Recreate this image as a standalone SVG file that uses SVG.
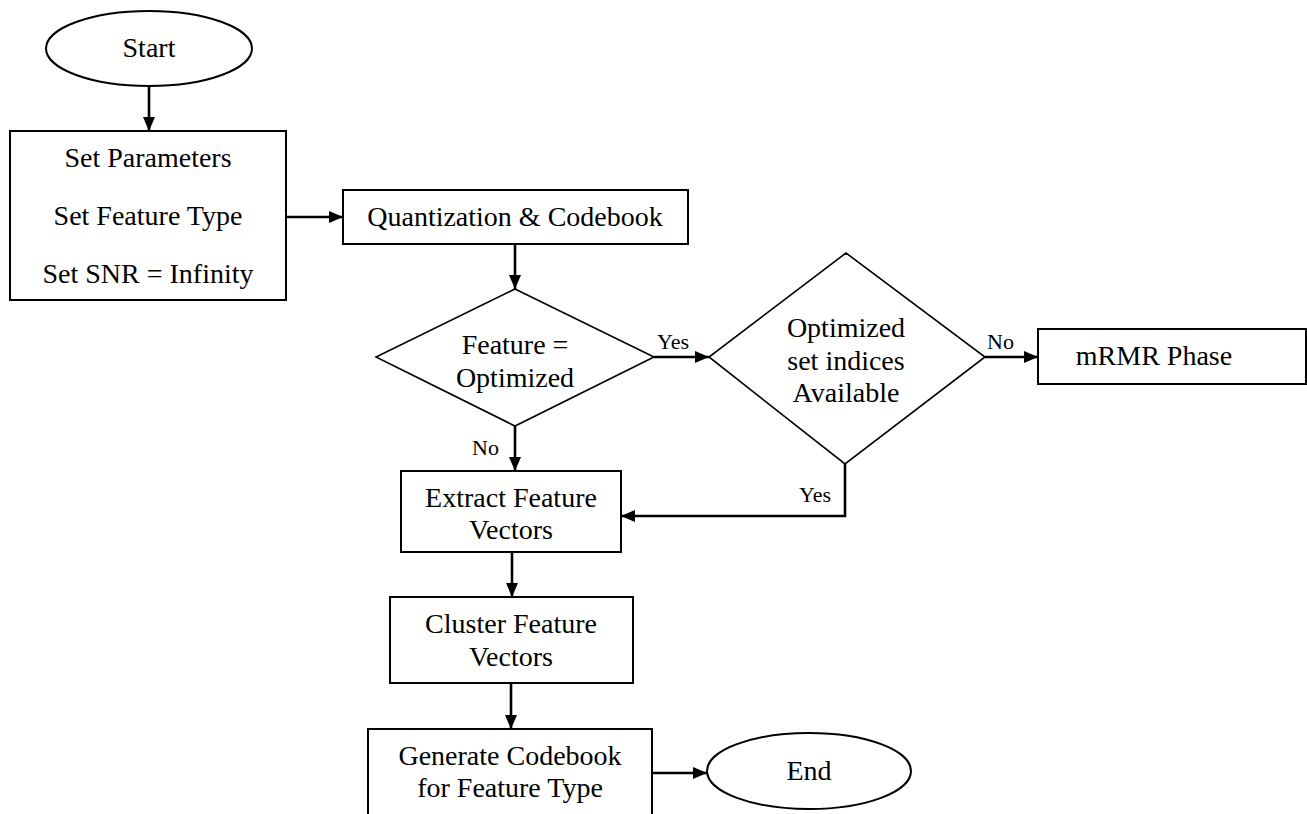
<svg xmlns="http://www.w3.org/2000/svg" width="1307" height="814" viewBox="0 0 1307 814">
<defs>
<style>
.shape{fill:#fff;stroke:#000;stroke-width:2}
.dia{fill:#fff;stroke:#000;stroke-width:1.6}
.t{font-size:28px;fill:#000;text-anchor:middle}
.lbl{font-size:22px;fill:#000}
.c{fill:none;stroke:#000;stroke-width:2.6}
</style>
<marker id="ah" viewBox="0 0 14 12" refX="14" refY="6" markerWidth="14" markerHeight="12" markerUnits="userSpaceOnUse" orient="auto">
<path d="M0,0 L14,6 L0,12 Z" fill="#000"/>
</marker>
</defs>
<rect width="1307" height="814" fill="#fff"/>
<g font-family="Liberation Serif, serif">
<g id="start">
<ellipse class="shape" cx="149" cy="48.5" rx="103" ry="37.5"/>
<text class="t" x="149" y="57">Start</text>
</g>
<g id="setparams">
<rect class="shape" x="10" y="131" width="276" height="169"/>
<text class="t" x="148" y="167">Set Parameters</text>
<text class="t" x="148" y="225">Set Feature Type</text>
<text class="t" x="148" y="283">Set SNR = Infinity</text>
</g>
<g id="quant">
<rect class="shape" x="343" y="190" width="345" height="54"/>
<text class="t" x="515" y="226">Quantization &amp; Codebook</text>
</g>
<g id="dec1">
<polygon class="dia" points="515,289 654,357 515,426 376,357"/>
<text class="t" x="515" y="354">Feature =</text>
<text class="t" x="515" y="387">Optimized</text>
</g>
<g id="dec2">
<polygon class="dia" points="846,253 985,357 845,464 709,357"/>
<text class="t" x="846" y="337">Optimized</text>
<text class="t" x="846" y="370">set indices</text>
<text class="t" x="846" y="402">Available</text>
</g>
<g id="mrmr">
<rect class="shape" x="1038" y="329" width="268" height="55"/>
<text class="t" x="1154" y="365">mRMR Phase</text>
</g>
<g id="extract">
<rect class="shape" x="401" y="471" width="220" height="81"/>
<text class="t" x="511" y="507">Extract Feature</text>
<text class="t" x="511" y="539">Vectors</text>
</g>
<g id="cluster">
<rect class="shape" x="390" y="597" width="243" height="86"/>
<text class="t" x="511" y="633">Cluster Feature</text>
<text class="t" x="511" y="666">Vectors</text>
</g>
<g id="generate">
<rect class="shape" x="368" y="729" width="284" height="100"/>
<text class="t" x="510" y="765">Generate Codebook</text>
<text class="t" x="510" y="797">for Feature Type</text>
</g>
<g id="end">
<ellipse class="shape" cx="809" cy="771" rx="102" ry="38"/>
<text class="t" x="809" y="780">End</text>
</g>
<g id="connectors">
<line class="c" x1="149" y1="86" x2="149" y2="131" marker-end="url(#ah)"/>
<line class="c" x1="286" y1="217" x2="343" y2="217" marker-end="url(#ah)"/>
<line class="c" x1="515" y1="244" x2="515" y2="289" marker-end="url(#ah)"/>
<line class="c" x1="654" y1="357" x2="709" y2="357" marker-end="url(#ah)"/>
<line class="c" x1="985" y1="357" x2="1038" y2="357" marker-end="url(#ah)"/>
<line class="c" x1="515" y1="426" x2="515" y2="471" marker-end="url(#ah)"/>
<polyline class="c" points="845,464 845,516 621,516" marker-end="url(#ah)"/>
<line class="c" x1="512" y1="552" x2="512" y2="597" marker-end="url(#ah)"/>
<line class="c" x1="511" y1="683" x2="511" y2="729" marker-end="url(#ah)"/>
<line class="c" x1="652" y1="773" x2="707" y2="773" marker-end="url(#ah)"/>
<text class="lbl" x="657" y="349">Yes</text>
<text class="lbl" x="987" y="349">No</text>
<text class="lbl" x="472" y="455">No</text>
<text class="lbl" x="799" y="502">Yes</text>
</g>
</g>
</svg>
